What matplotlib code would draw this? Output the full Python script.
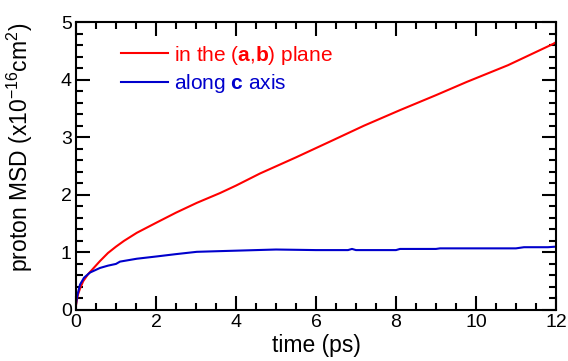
import numpy as np
import matplotlib
matplotlib.use("Agg")
import matplotlib.pyplot as plt

plt.rcParams['font.family'] = 'Liberation Sans'
plt.rcParams['mathtext.fontset'] = 'custom'
plt.rcParams['mathtext.rm'] = 'Liberation Sans'
plt.rcParams['mathtext.bf'] = 'Liberation Sans:bold'

# MSD in the (a,b) plane
t_ab = [0, 0.02, 0.05, 0.1, 0.18, 0.3, 0.43, 0.6, 0.8, 1.0, 1.2, 1.52, 2.02, 2.5, 3.02,
        3.6, 4.0, 4.6, 5.5, 6.43, 7.2, 8.1, 9.0, 9.77, 10.8, 11.93, 12]
msd_ab = [0.08, 0.17, 0.27, 0.37, 0.5, 0.62, 0.72, 0.85, 0.99, 1.1, 1.2, 1.34, 1.52, 1.69, 1.86,
          2.03, 2.16, 2.37, 2.65, 2.95, 3.2, 3.47, 3.73, 3.96, 4.25, 4.62, 4.65]

# MSD along c axis
t_c = [0, 0.02, 0.05, 0.1, 0.2, 0.35, 0.6, 0.8, 1.0, 1.1, 1.52, 2.02, 2.5, 3.02, 3.5, 4.0,
       5.0, 6.0, 6.8, 6.9, 7.0, 8.0, 8.1, 9.0, 9.1, 10.0, 11.0, 11.2, 11.8, 12]
msd_c = [0.1, 0.2, 0.3, 0.44, 0.56, 0.65, 0.73, 0.77, 0.8, 0.84, 0.89, 0.93, 0.97, 1.01, 1.02, 1.03,
         1.05, 1.04, 1.04, 1.06, 1.04, 1.04, 1.06, 1.06, 1.07, 1.07, 1.07, 1.09, 1.09, 1.1]

fig = plt.figure(figsize=(5.68, 3.61), dpi=100)
ax = fig.add_axes([0.1338, 0.1413, 0.845, 0.7977])

ax.plot(t_ab, msd_ab, color='#ff0000', lw=1.5, label=r'in the ($\mathbf{a}$,$\mathbf{b}$) plane')
ax.plot(t_c, msd_c, color='#0000cc', lw=1.5, label=r'along $\mathbf{c}$ axis')

ax.set_xlim(0, 12)
ax.set_ylim(0, 5)
ax.set_xticks(np.arange(0, 13, 2))
ax.set_yticks(np.arange(0, 6, 1))
ax.set_xticks(np.arange(0, 12.01, 0.5), minor=True)
ax.set_yticks(np.arange(0, 5.01, 0.2), minor=True)
ax.tick_params(which='both', direction='in', top=True, right=True, width=1.5, labelsize=14, pad=3)
ax.tick_params(which='major', length=10)
ax.tick_params(which='minor', length=5)
for s in ax.spines.values():
    s.set_linewidth(1.5)

ax.set_xlabel('time (ps)', fontsize=16.5)
ax.xaxis.set_label_coords(0.5, -0.083)
ax.set_ylabel(r'proton MSD (x10$^{\mathrm{-16}}$cm$^{\mathrm{2}}$)', fontsize=16.5)
ax.yaxis.set_label_coords(-0.085, 0.566)

leg = ax.legend(loc='upper left', bbox_to_anchor=(0.055, 0.99), frameon=False, fontsize=15,
                handlelength=2.25, handletextpad=0.3, labelspacing=0.25)
for txt, ln in zip(leg.get_texts(), leg.get_lines()):
    txt.set_color(ln.get_color())

fig.savefig('out.png', dpi=100)
